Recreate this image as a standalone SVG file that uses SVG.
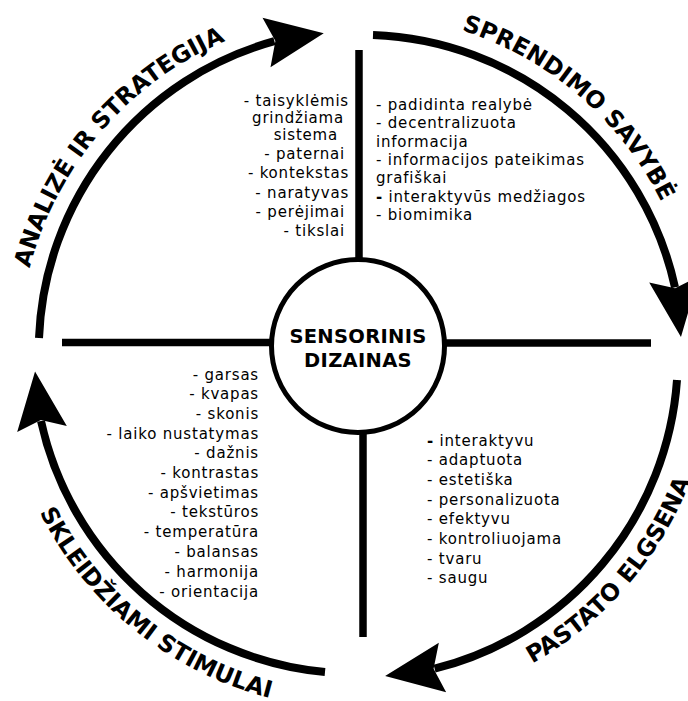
<svg xmlns="http://www.w3.org/2000/svg" width="688" height="701" viewBox="0 0 688 701">
<style>
.arc{fill:none;stroke:#000;stroke-width:8;stroke-linecap:butt}
.spoke{stroke:#000;stroke-width:7.5;stroke-linecap:butt}
.lbl{font-family:"DejaVu Sans","Liberation Sans",sans-serif;font-weight:700;font-size:23.5px;fill:#000}
.li{font-family:"DejaVu Sans","Liberation Sans",sans-serif;font-size:15px;letter-spacing:0.8px;fill:#000}
.end{text-anchor:end}
.ctr{font-family:"DejaVu Sans","Liberation Sans",sans-serif;font-weight:700;font-size:19.5px;fill:#000;text-anchor:middle;letter-spacing:0.3px}
.b{font-weight:700}
</style>
<defs>
<path id="ah" d="M58 0 L0 -25 L9 0 L0 25 Z" fill="#000"/>
<path id="p1" d="M 19 353 A 339 339 0 0 1 358 14"/>
<path id="p2" d="M 358 14 A 339 339 0 0 1 697 353"/>
<path id="p3" d="M 358 709 A 356 356 0 0 0 714 353"/>
<path id="p4" d="M 2 353 A 356 356 0 0 0 358 709"/>
</defs>
<rect width="688" height="701" fill="#fff"/>

<g id="spokes">
<line class="spoke" x1="62" y1="342.5" x2="272" y2="342.5"/>
<line class="spoke" x1="444" y1="343" x2="651" y2="343"/>
<line class="spoke" x1="359" y1="50" x2="359" y2="262"/>
<line class="spoke" x1="363" y1="430" x2="363" y2="637"/>
</g>

<g id="connectors">
<path class="arc" d="M 39 338 A 321 321 0 0 1 274.4 41.2"/>
<use href="#ah" transform="translate(266.5 42.5) rotate(-9.2)"/>
<path class="arc" d="M 373 35 A 321 321 0 0 1 675 287.3"/>
<use href="#ah" transform="translate(674 279.4) rotate(83.1)"/>
<path class="arc" d="M 677 380 A 321 321 0 0 1 434.6 668.7"/>
<use href="#ah" transform="translate(442.5 667.5) rotate(171.6)"/>
<path class="arc" d="M 325 672 A 321 321 0 0 1 41 421"/>
<use href="#ah" transform="translate(42 429) rotate(263.1)"/>
</g>

<g id="node-center">
<circle cx="358" cy="346" r="86.5" fill="#fff" stroke="#000" stroke-width="5"/>
<text class="ctr" x="358" y="343">SENSORINIS</text>
<text class="ctr" x="358" y="367">DIZAINAS</text>
</g>

<g id="node-analize">
<text class="lbl"><textPath href="#p1" startOffset="240.8" text-anchor="middle">ANALIZĖ IR STRATEGIJA</textPath></text>
<text class="li end" x="349" y="106">- taisyklėmis</text>
<text class="li end" x="344" y="123">grindžiama</text>
<text class="li end" x="338" y="140">sistema</text>
<text class="li end" x="345" y="159">- paternai</text>
<text class="li end" x="349" y="178">- kontekstas</text>
<text class="li end" x="349" y="198">- naratyvas</text>
<text class="li end" x="345" y="217">- perėjimai</text>
<text class="li end" x="345" y="236">- tikslai</text>
</g>

<g id="node-sprendimo">
<text class="lbl"><textPath href="#p2" startOffset="240.5" text-anchor="middle">SPRENDIMO SAVYBĖ</textPath></text>
<text class="li" x="376" y="110">- padidinta realybė</text>
<text class="li" x="376" y="128">- decentralizuota</text>
<text class="li" x="376" y="147">informacija</text>
<text class="li" x="376" y="165">- informacijos pateikimas</text>
<text class="li" x="376" y="183">grafiškai</text>
<text class="li" x="376" y="202"><tspan class="b">-</tspan> interaktyvūs medžiagos</text>
<text class="li" x="376" y="220">- biomimika</text>
</g>

<g id="node-pastato">
<text class="lbl"><textPath href="#p3" startOffset="305.1" text-anchor="middle">PASTATO ELGSENA</textPath></text>
<text class="li" x="427" y="446"><tspan class="b">-</tspan> interaktyvu</text>
<text class="li" x="427" y="465">- adaptuota</text>
<text class="li" x="427" y="485">- estetiška</text>
<text class="li" x="427" y="505">- personalizuota</text>
<text class="li" x="427" y="524">- efektyvu</text>
<text class="li" x="427" y="544">- kontroliuojama</text>
<text class="li" x="427" y="564">- tvaru</text>
<text class="li" x="427" y="583">- saugu</text>
</g>

<g id="node-skleidziami">
<text class="lbl"><textPath href="#p4" startOffset="317.5" text-anchor="middle">SKLEIDŽIAMI STIMULAI</textPath></text>
<text class="li end" x="259" y="380">- garsas</text>
<text class="li end" x="259" y="399">- kvapas</text>
<text class="li end" x="259" y="419">- skonis</text>
<text class="li end" x="259" y="439">- laiko nustatymas</text>
<text class="li end" x="259" y="458">- dažnis</text>
<text class="li end" x="259" y="478">- kontrastas</text>
<text class="li end" x="259" y="498">- apšvietimas</text>
<text class="li end" x="259" y="517">- tekstūros</text>
<text class="li end" x="259" y="537">- temperatūra</text>
<text class="li end" x="259" y="557">- balansas</text>
<text class="li end" x="259" y="577">- harmonija</text>
<text class="li end" x="259" y="597">- orientacija</text>
</g>
</svg>
